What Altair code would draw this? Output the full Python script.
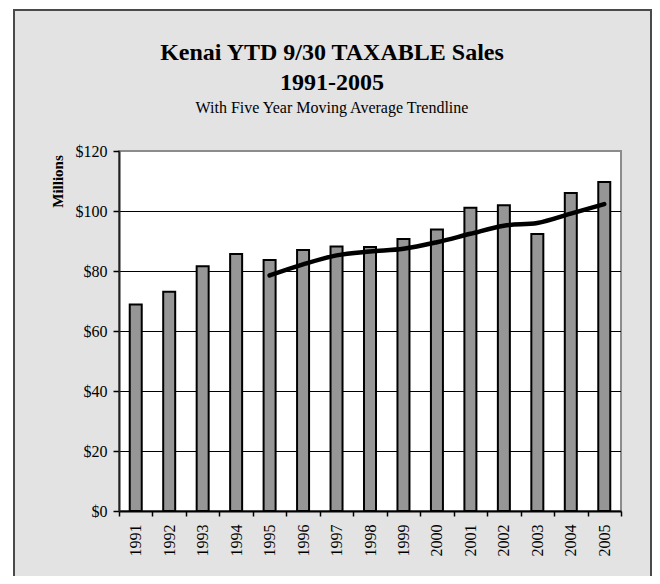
import altair as alt
import pandas as pd

# ---- data ----
years = ["1991", "1992", "1993", "1994", "1995", "1996", "1997", "1998",
         "1999", "2000", "2001", "2002", "2003", "2004", "2005"]
sales = [68.8, 73.1, 81.6, 85.7, 83.7, 87.0, 88.2, 88.0,
         90.7, 93.8, 101.1, 101.9, 92.3, 106.0, 109.7]
ma_years = ["1995", "1996", "1997", "1998", "1999", "2000",
            "2001", "2002", "2003", "2004", "2005"]
ma_values = [78.5, 82.2, 85.2, 86.5, 87.4, 89.6, 92.4, 95.1, 96.0, 99.1, 102.3]
y_ticks = [0, 20, 40, 60, 80, 100, 120]
grid_vals = [20, 40, 60, 80, 100]

title_line1 = "Kenai YTD 9/30 TAXABLE Sales"
title_line2 = "1991-2005"
subtitle = "With Five Year Moving Average Trendline"

FONT = "Liberation Serif"
W, H = 502, 360

bars_df = pd.DataFrame({"year": years, "sales": sales})
ma_df = pd.DataFrame({"year": ma_years, "ma": ma_values})
grid_df = pd.DataFrame({"v": grid_vals})
one = pd.DataFrame({"k": [0]})

x_scale = alt.Scale(domain=years, paddingInner=0, paddingOuter=0)
y_scale = alt.Scale(domain=[0, 120], nice=False)

x_axis = alt.Axis(title=None, labelAngle=270, tickBand="extent",
                  tickSize=5, labelPadding=8, labelFont=FONT,
                  labelFontSize=16, labelFontWeight="normal", labelColor="black",
                  tickColor="black", domainColor="black",
                  domainWidth=2, tickWidth=1.5, grid=False, zindex=1)

y_axis = alt.Axis(values=y_ticks, labelExpr="'$' + datum.value",
                  tickSize=6, labelPadding=6, labelFont=FONT,
                  labelFontSize=16, labelFontWeight="normal", labelColor="black",
                  tickColor="black", domainColor="#222222",
                  domainWidth=2, tickWidth=1.5, grid=False, zindex=1,
                  title="Millions", titleFont=FONT, titleFontSize=15,
                  titleFontWeight="bold", titleColor="black",
                  titleAngle=270, titleX=-62, titleY=30,
                  titleAlign="center", titleBaseline="middle")

# outer chart-area frame
frame = alt.Chart(one).mark_rect(
    fill="#E3E3E3", stroke="#4A4A4A", strokeWidth=2
).encode(
    x=alt.value(-105), x2=alt.value(532), y=alt.value(-141), y2=alt.value(445)
)

# white plot area with gray border
plotbg = alt.Chart(one).mark_rect(
    fill="white", stroke="#8C8C8C", strokeWidth=2
).encode(
    x=alt.value(0), x2=alt.value(W), y=alt.value(0), y2=alt.value(H)
)

grid = alt.Chart(grid_df).mark_rule(color="black", strokeWidth=1, yOffset=0.5).encode(
    y=alt.Y("v:Q", scale=y_scale, axis=y_axis)
)

bars = alt.Chart(bars_df).mark_bar(
    size=12, fill="#969696", stroke="black", strokeWidth=2
).encode(
    x=alt.X("year:N", scale=x_scale, sort=years, axis=x_axis),
    y=alt.Y("sales:Q", scale=y_scale, axis=y_axis),
)

line = alt.Chart(ma_df).mark_line(
    color="black", strokeWidth=4.5, interpolate="monotone", strokeCap="round"
).encode(
    x=alt.X("year:N", scale=x_scale, sort=years, axis=x_axis),
    y=alt.Y("ma:Q", scale=y_scale, axis=y_axis),
)

t1 = alt.Chart(one).mark_text(
    text=title_line1, font=FONT, fontSize=24, fontWeight="bold",
    color="black", align="center", baseline="alphabetic"
).encode(x=alt.value(213), y=alt.value(-91))

t2 = alt.Chart(one).mark_text(
    text=title_line2, font=FONT, fontSize=24, fontWeight="bold",
    color="black", align="center", baseline="alphabetic"
).encode(x=alt.value(213), y=alt.value(-61))

t3 = alt.Chart(one).mark_text(
    text=subtitle, font=FONT, fontSize=16, color="black",
    align="center", baseline="alphabetic"
).encode(x=alt.value(213), y=alt.value(-38))

chart = alt.layer(frame, plotbg, grid, bars, line, t1, t2, t3).properties(
    width=W, height=H,
    autosize=alt.AutoSizeParams(type="none"),
    padding={"left": 111, "top": 143, "right": 31, "bottom": 65},
    background="white",
).configure_view(stroke=None)

chart.save("out.html", embed_options={"renderer": "svg", "actions": False})
